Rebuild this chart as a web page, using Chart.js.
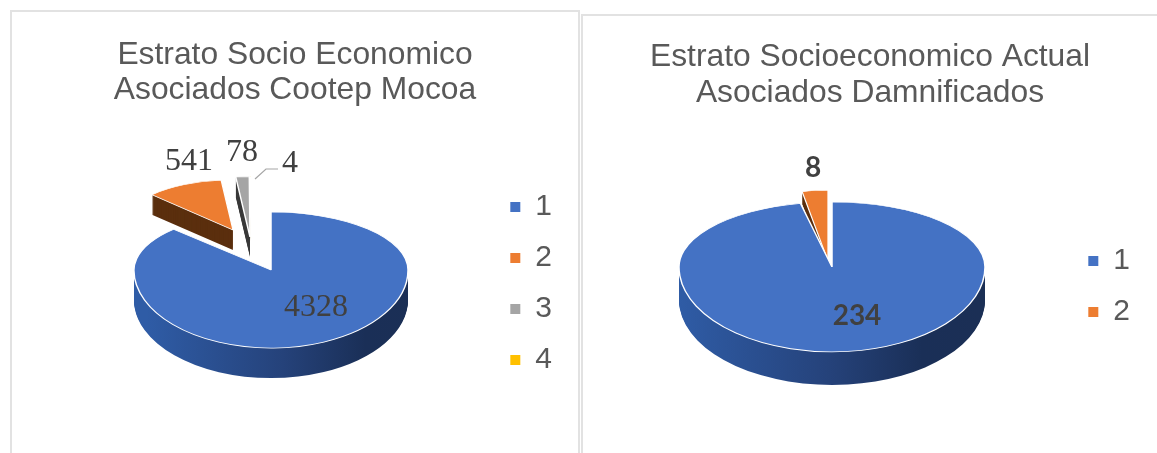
<!DOCTYPE html>
<html>
<head>
<meta charset="utf-8">
<script src="https://cdn.jsdelivr.net/npm/chart.js@4"></script>
<style>
html,body{margin:0;padding:0;background:#fff;width:1157px;height:453px;overflow:hidden}
.box{position:absolute;box-sizing:border-box;border:2px solid #e2e2e2;border-bottom:none;background:#fff}
canvas{position:absolute;left:0;top:0}
</style>
</head>
<body>
<div class="box" style="left:10px;top:10px;width:570px;height:443px"><canvas id="a"></canvas></div>
<div class="box" style="left:581px;top:14px;width:590px;height:439px;border-right:none"><canvas id="b"></canvas></div>
<script>
const leftTitle = ['Estrato Socio Economico', 'Asociados Cootep Mocoa'];
const leftCategories = ['1', '2', '3', '4'];
const leftValues = [4328, 541, 78, 4];
const rightTitle = ['Estrato Socioeconomico Actual', 'Asociados Damnificados'];
const rightCategories = ['1', '2'];
const rightValues = [234, 8];
const sliceColors = ['#4472c4', '#ed7d31', '#a5a5a5', '#ffc000'];

const leftView = {
  hub: [259, 258], radius: 137, squashTop: 0.423, squashBottom: 0.57,
  radiusFactor: [1, 0.832, 1, 1], squash: [0, 0.44, 0.44, 0.44],
  push: [[0, 0], [-38, -40], [-21, -33], [-20, -33]], depth: [30, 20, 20, 4],
  labelFont: '32px "Liberation Serif"',
  labelSpots: [[177, 150], [230, 141], [278, 152]],
  valueSpot: [304, 296],
  leader: [[243, 167], [254, 157], [266, 157]],
  legendShift: 51
};
const rightView = {
  hub: [249, 251], radius: 153, squashTop: 0.425, squashBottom: 0.555,
  radiusFactor: [1, 0.82], squash: [0, 0.565],
  push: [[0, 0], [-4, -6]], depth: [33, 12],
  labelFont: 'bold 28px Lato',
  labelSpots: [[230, 152]],
  valueSpot: [274, 300],
  leader: null,
  legendShift: 52
};
const wallColors = [null, '#5b2f0e', '#3a3a3a', '#7f6000'];

const pie3d = {
  id: 'pie3d',
  afterLayout(chart) {
    const v = chart.options.plugins.pie3d.view;
    chart.legend.top += v.legendShift;
    chart.legend.bottom += v.legendShift;
  },
  beforeDatasetDraw(chart) {
    const v = chart.options.plugins.pie3d.view;
    const ctx = chart.ctx;
    const arcs = chart.getDatasetMeta(0).data;
    const [hx, hy] = v.hub;
    const blueWall = ctx.createLinearGradient(hx - v.radius, 0, hx + v.radius, 0);
    blueWall.addColorStop(0, '#2f5ca6');
    blueWall.addColorStop(0.5, '#25427a');
    blueWall.addColorStop(0.8, '#1a2f57');
    blueWall.addColorStop(1, '#1b2f55');

    const paint = (arc, i, d, fill, border) => {
      const saved = arc.options;
      const o = Object.create(saved);
      o.backgroundColor = fill;
      o.borderColor = border || fill;
      o.borderWidth = border ? 1.5 : 0;
      o.offset = 0;
      arc.options = o;
      const [px, py] = v.push[i];
      const parts = i === 0
        ? [[v.squashTop, 0, hy + d], [v.squashBottom, hy + d, chart.height]]
        : [[v.squash[i], 0, chart.height]];
      parts.forEach(([sq, y0, y1]) => {
        ctx.save();
        ctx.beginPath();
        ctx.rect(0, y0, chart.width, y1 - y0);
        ctx.clip();
        ctx.translate(hx + px, hy + py + d);
        ctx.scale(v.radiusFactor[i], v.radiusFactor[i] * sq);
        ctx.translate(-arc.x, -arc.y);
        arc.draw(ctx);
        ctx.restore();
      });
      arc.options = saved;
    };

    for (let i = arcs.length - 1; i >= 0; i--) {
      const wall = i === 0 ? blueWall : wallColors[i];
      for (let d = v.depth[i]; d >= 1; d--) paint(arcs[i], i, d, wall, null);
      paint(arcs[i], i, 0, sliceColors[i], '#ffffff');
    }
    return false;
  },
  afterDatasetsDraw(chart) {
    const v = chart.options.plugins.pie3d.view;
    const ctx = chart.ctx;
    const vals = chart.data.datasets[0].data;
    ctx.save();
    if (v.leader) {
      ctx.strokeStyle = '#a6a6a6';
      ctx.lineWidth = 1.2;
      ctx.beginPath();
      v.leader.forEach(([x, y], k) => k ? ctx.lineTo(x, y) : ctx.moveTo(x, y));
      ctx.stroke();
    }
    ctx.fillStyle = '#404040';
    ctx.font = v.labelFont;
    ctx.textAlign = 'center';
    ctx.textBaseline = 'middle';
    vals.forEach((val, i) => {
      const spot = i === 0 ? v.valueSpot : v.labelSpots[i - 1];
      ctx.fillText(String(val), spot[0], spot[1]);
    });
    ctx.restore();
  }
};

function build(id, w, h, title, categories, values, view, pad, titleTop, lineHeight) {
  const el = document.getElementById(id);
  el.style.width = w + 'px';
  el.style.height = h + 'px';
  el.width = w; el.height = h;
  return new Chart(el, {
    type: 'pie',
    plugins: [pie3d],
    data: {
      labels: categories,
      datasets: [{
        data: values,
        backgroundColor: sliceColors.slice(0, values.length),
        borderWidth: 0,
        radius: view.radius
      }]
    },
    options: {
      responsive: false,
      animation: false,
      layout: { padding: pad },
      plugins: {
        tooltip: { enabled: false },
        pie3d: { view },
        title: {
          display: true,
          text: title,
          color: '#595959',
          font: { family: '"Liberation Sans"', size: 31.8, weight: 'normal', lineHeight },
          padding: { top: titleTop, bottom: 0 }
        },
        legend: {
          display: true,
          position: 'right',
          labels: {
            color: '#595959',
            font: { family: '"Liberation Sans"', size: 30 },
            boxWidth: 10, boxHeight: 10, padding: 21
          }
        }
      }
    }
  });
}
build('a', 566, 441, leftTitle, leftCategories, leftValues, leftView, { left: 16, right: 16 }, 26, 1.1);
build('b', 574, 437, rightTitle, rightCategories, rightValues, rightView, { left: 17, right: 17 }, 23, 1.13);
</script>
</body>
</html>
